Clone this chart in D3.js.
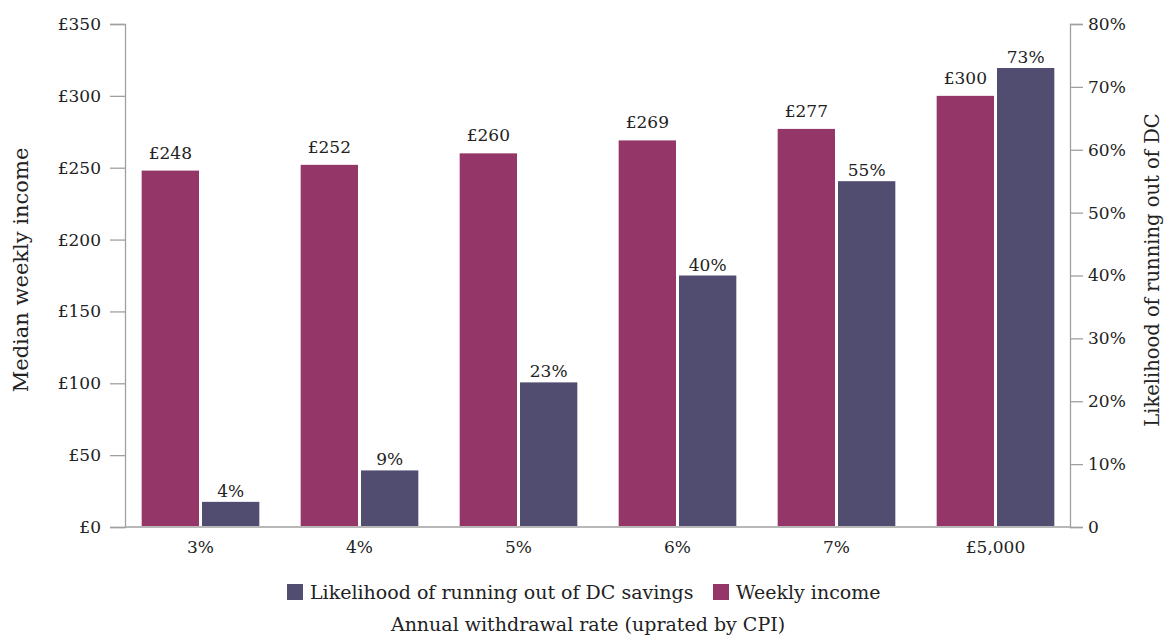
<!DOCTYPE html>
<html>
<head>
<meta charset="utf-8">
<script src="https://cdn.jsdelivr.net/npm/d3@7"></script>
<style>
  body { margin: 0; background: white; }
  text { font-family: 'DejaVu Serif', serif; fill: #222; }
</style>
</head>
<body>
<script>
// chart data
const categories = ['3%', '4%', '5%', '6%', '7%', '£5,000']
const weeklyIncome = [248, 252, 260, 269, 277, 300]
const likelihood = [4, 9, 23, 40, 55, 73]
const incomeTicks = [0, 50, 100, 150, 200, 250, 300, 350]
const pctTicks = [0, 10, 20, 30, 40, 50, 60, 70, 80]

const width = 1164
const height = 638
const plot = {left: 125, right: 1070, top: 24, bottom: 527}

const pink = '#943768'
const navy = '#514d70'
const axisGrey = '#a0a0a0'

const svg = d3.select('body').append('svg')
    .attr('width', width)
    .attr('height', height)

const x = d3.scaleBand()
    .domain(categories)
    .range([121, 1075])
    .paddingInner(0.26)
    .paddingOuter(0.13)

const sub = d3.scaleBand()
    .domain(['income', 'likelihood'])
    .range([0, x.bandwidth()])
    .paddingInner(0.05)

const yLeft = d3.scaleLinear().domain([0, 350]).range([plot.bottom, plot.top])
const yRight = d3.scaleLinear().domain([0, 80]).range([plot.bottom, plot.top])

// axes
const leftAxis = svg.append('g')
    .attr('transform', `translate(${plot.left},0)`)
    .call(d3.axisLeft(yLeft).tickValues(incomeTicks).tickSize(15).tickPadding(9)
        .tickFormat(d => '£' + d))

const rightAxis = svg.append('g')
    .attr('transform', `translate(${plot.right},0)`)
    .call(d3.axisRight(yRight).tickValues(pctTicks).tickSize(13).tickPadding(5)
        .tickFormat(d => d === 0 ? '0' : d + '%'))

const bottomAxis = svg.append('g')
    .attr('transform', `translate(0,${plot.bottom})`)
    .call(d3.axisBottom(x).tickSize(0).tickPadding(14))

for (const ax of [leftAxis, rightAxis, bottomAxis]) {
    ax.selectAll('path').attr('stroke', axisGrey).attr('stroke-width', 1.3)
    ax.selectAll('line').attr('stroke', axisGrey).attr('stroke-width', 1.3)
    ax.selectAll('text').style('font-size', '17px').attr('fill', '#222')
}
bottomAxis.select('path.domain').attr('d', `M${plot.left},0H${plot.right}`)

// bars
const groups = svg.append('g').selectAll('g')
    .data(categories)
    .join('g')
    .attr('transform', d => `translate(${x(d)},0)`)

groups.append('rect')
    .attr('x', sub('income'))
    .attr('width', sub.bandwidth())
    .attr('y', (d, i) => yLeft(weeklyIncome[i]))
    .attr('height', (d, i) => plot.bottom - 1 - yLeft(weeklyIncome[i]))
    .attr('fill', pink)

groups.append('rect')
    .attr('x', sub('likelihood'))
    .attr('width', sub.bandwidth())
    .attr('y', (d, i) => yRight(likelihood[i]))
    .attr('height', (d, i) => plot.bottom - 1 - yRight(likelihood[i]))
    .attr('fill', navy)

groups.append('text')
    .attr('x', sub('income') + sub.bandwidth() / 2)
    .attr('y', (d, i) => yLeft(weeklyIncome[i]) - 12)
    .attr('text-anchor', 'middle')
    .style('font-size', '17px')
    .text((d, i) => '£' + weeklyIncome[i])

groups.append('text')
    .attr('x', sub('likelihood') + sub.bandwidth() / 2)
    .attr('y', (d, i) => yRight(likelihood[i]) - 5)
    .attr('text-anchor', 'middle')
    .style('font-size', '17px')
    .text((d, i) => likelihood[i] + '%')

// axis titles
svg.append('text')
    .attr('transform', 'translate(28,270) rotate(-90)')
    .attr('text-anchor', 'middle')
    .style('font-size', '21px')
    .text('Median weekly income')

svg.append('text')
    .attr('transform', 'translate(1159,270) rotate(-90)')
    .attr('text-anchor', 'middle')
    .style('font-size', '19.5px')
    .text('Likelihood of running out of DC')

svg.append('text')
    .attr('x', 588)
    .attr('y', 631)
    .attr('text-anchor', 'middle')
    .style('font-size', '19px')
    .text('Annual withdrawal rate (uprated by CPI)')

// legend
const legendItems = [
    {label: 'Likelihood of running out of DC savings', color: navy, x: 287},
    {label: 'Weekly income', color: pink, x: 713}
]
const legend = svg.append('g').selectAll('g')
    .data(legendItems)
    .join('g')
    .attr('transform', d => `translate(${d.x},584)`)

legend.append('rect')
    .attr('width', 16).attr('height', 16)
    .attr('fill', d => d.color)

legend.append('text')
    .attr('x', 23)
    .attr('y', 15)
    .style('font-size', '19px')
    .text(d => d.label)
</script>
</body>
</html>
